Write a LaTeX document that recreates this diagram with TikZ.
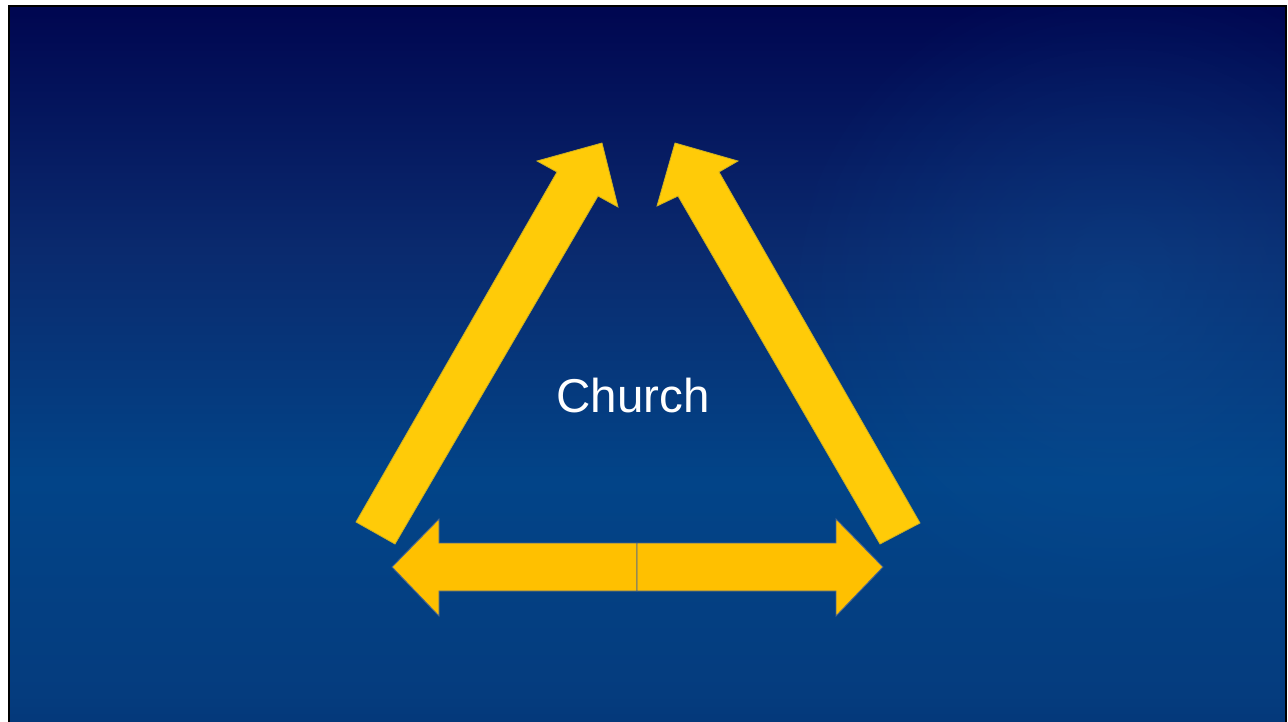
\documentclass[tikz,border=0pt]{standalone}
\usepackage{fontspec}
\setmainfont{Liberation Sans}
\usetikzlibrary{fadings}
\definecolor{bgA}{HTML}{000650}
\definecolor{bgB}{HTML}{0A2A6E}
\definecolor{bgC}{HTML}{024488}
\definecolor{bgD}{HTML}{053C7E}
\definecolor{bgE}{HTML}{04387A}
\definecolor{glow}{HTML}{1060A8}
\definecolor{diag}{HTML}{FFCB08}
\definecolor{horiz}{HTML}{FFC000}
\definecolor{hline}{HTML}{4A6590}
\tikzfading[name=glowfade, inner color=transparent!0, outer color=transparent!100]
\pgfdeclareverticalshading{slidebg}{100bp}{
  color(0bp)=(bgE); color(25bp)=(bgE); color(27bp)=(bgD); color(42bp)=(bgC); color(58bp)=(bgB); color(75bp)=(bgA); color(100bp)=(bgA)}
\tikzset{
  diagarrow/.style={fill=diag, draw=diag!80!bgC, line width=0.8pt, line join=miter},
  horizarrow/.style={fill=horiz, draw=hline, line width=0.9pt, line join=miter},
  label/.style={text=white, font=\fontsize{47.5}{57}\selectfont, inner sep=0pt}
}
\begin{document}
\begin{tikzpicture}[x=1pt,y=-1pt]
\useasboundingbox (0,0) rectangle (1288,721);
\fill[white] (0,0) rectangle (1288,721);
% slide background
\shade[shading=slidebg] (9,6) rectangle (1286,724);
\begin{scope}
\clip (9,6) rectangle (1286,724);
\fill[glow, path fading=glowfade, opacity=0.3] (1120,300) ellipse (340 and 330);
\end{scope}
\draw[black, line width=2.2pt] (9,726) -- (9,6) -- (1286,6) -- (1286,726);
% left diagonal arrow
\coordinate (la1) at (356,522);
\coordinate (la2) at (395,544);
\coordinate (la3) at (598,196);
\coordinate (la4) at (618,207);
\coordinate (latip) at (602,143);
\coordinate (la5) at (537,161);
\coordinate (la6) at (557,172);
\path[diagarrow] (la1) -- (la2) -- (la3) -- (la4) -- (latip) -- (la5) -- (la6) -- cycle;
% right diagonal arrow
\coordinate (ra1) at (920,523);
\coordinate (ra2) at (880,544);
\coordinate (ra3) at (678,196);
\coordinate (ra4) at (657,206);
\coordinate (ratip) at (675,143);
\coordinate (ra5) at (738,161);
\coordinate (ra6) at (719,172);
\path[diagarrow] (ra1) -- (ra2) -- (ra3) -- (ra4) -- (ratip) -- (ra5) -- (ra6) -- cycle;
% horizontal double arrow (two halves)
\path[horizarrow] (637,543) -- (439,543) -- (439,519) -- (392,567) -- (439,616) -- (439,591) -- (637,591) -- cycle;
\path[horizarrow] (637,543) -- (836,543) -- (836,519) -- (883,567) -- (836,616) -- (836,591) -- (637,591) -- cycle;
% label
\node[label] (church) at (633,396) {Church};
\end{tikzpicture}
\end{document}
